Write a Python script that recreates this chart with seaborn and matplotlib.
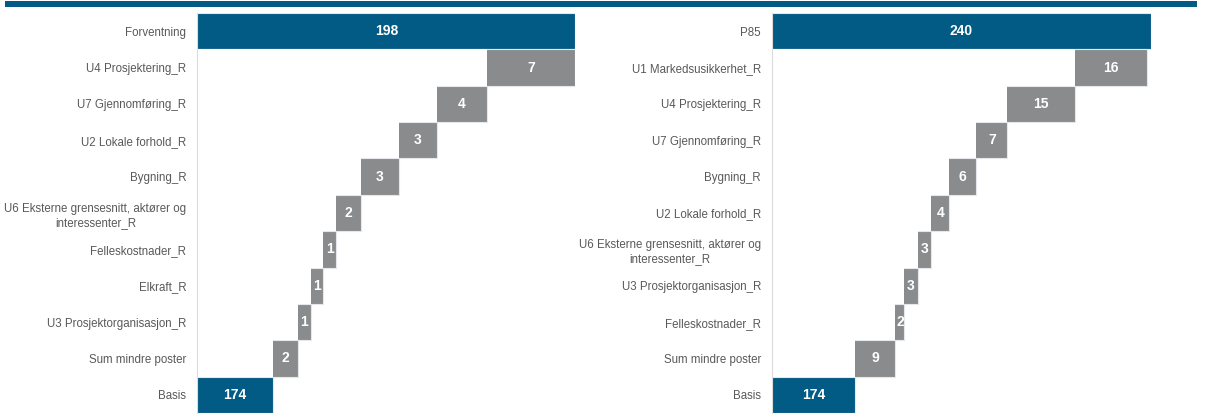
import numpy as np
import pandas as pd
import matplotlib
matplotlib.use("Agg")
import matplotlib.pyplot as plt
from matplotlib.patches import Rectangle
import seaborn as sns

# Left waterfall: from Basis up to Forventning (bottom to top)
left_labels = [
    "Basis",
    "Sum mindre poster",
    "U3 Prosjektorganisasjon_R",
    "Elkraft_R",
    "Felleskostnader_R",
    "U6 Eksterne grensesnitt, aktører og\ninteressenter_R",
    "Bygning_R",
    "U2 Lokale forhold_R",
    "U7 Gjennomføring_R",
    "U4 Prosjektering_R",
    "Forventning",
]
left_values = [174, 2, 1, 1, 1, 2, 3, 3, 4, 7, 198]

# Right waterfall: from Basis up to P85 (bottom to top)
right_labels = [
    "Basis",
    "Sum mindre poster",
    "Felleskostnader_R",
    "U3 Prosjektorganisasjon_R",
    "U6 Eksterne grensesnitt, aktører og\ninteressenter_R",
    "U2 Lokale forhold_R",
    "Bygning_R",
    "U7 Gjennomføring_R",
    "U4 Prosjektering_R",
    "U1 Markedsusikkerhet_R",
    "P85",
]
right_values = [174, 9, 2, 3, 3, 4, 6, 7, 15, 16, 240]

BLUE = "#025b84"
GREY = "#8a8b8d"
TEXT = "#595959"

sns.set_theme(style="white")
plt.rcParams["font.family"] = ["Liberation Sans", "DejaVu Sans"]


def waterfall_frame(labels, values):
    n = len(values)
    starts, ends, kinds = [], [], []
    running = 0
    for i, v in enumerate(values):
        if i == 0 or i == n - 1:
            starts.append(0)
            ends.append(v)
            kinds.append("total")
            running = v
        else:
            starts.append(running)
            running += v
            ends.append(running)
            kinds.append("step")
    df = pd.DataFrame({"label": labels, "value": values, "start": starts,
                       "end": ends, "kind": kinds})
    # top row first so that Basis sits at the bottom
    return df.iloc[::-1].reset_index(drop=True)


def draw(ax, labels, values, xmin, xmax):
    df = waterfall_frame(labels, values)
    order = list(df["label"])
    pal = {lab: (BLUE if k == "total" else GREY) for lab, k in zip(df["label"], df["kind"])}
    sns.barplot(data=df, x="end", y="label", hue="label", order=order,
                palette=pal, saturation=1, dodge=False, legend=False, width=1.0,
                edgecolor="#e4e8ec", linewidth=0.8, ax=ax)
    # mask the part below each floating step
    sns.barplot(data=df, x="start", y="label", order=order, color="white",
                saturation=1, width=1.0, edgecolor="none", linewidth=0, ax=ax)
    for i, row in df.iterrows():
        ax.text(row["start"] + row["value"] / 2 if row["kind"] == "step"
                else xmin + (row["end"] - xmin) / 2,
                i, f"{row['value']:g}", ha="center", va="center",
                color="white", fontsize=10, fontweight="bold")
    ax.set_xlim(xmin, xmax)
    ax.set_ylim(len(df) - 0.5, -0.5)
    ax.set_xlabel("")
    ax.set_ylabel("")
    ax.set_xticks([])
    for s in ["top", "right", "bottom"]:
        ax.spines[s].set_visible(False)
    ax.spines["left"].set_color("#dcdcdc")
    ax.spines["left"].set_linewidth(0.8)
    ax.spines["left"].set_zorder(5)
    ax.tick_params(axis="y", length=0, pad=8, labelsize=8.3, labelcolor=TEXT)
    for t in ax.get_yticklabels():
        t.set_multialignment("center")
        t.set_linespacing(1.3)


W, H = 1212, 416
fig = plt.figure(figsize=(W / 100, H / 100), dpi=100)

axL = fig.add_axes([197.5 / W, 3 / H, (575 - 197.5) / W, 400 / H])
axR = fig.add_axes([772 / W, 3 / H, (1151 - 772) / W, 400 / H])

draw(axL, left_labels, left_values, 168, 198)
draw(axR, right_labels, right_values, 155.5, 240)

# header band
fig.add_artist(Rectangle((5 / W, 1 - 7 / H), (1197 - 5) / W, 6 / H,
                         transform=fig.transFigure, color=BLUE, lw=0))

fig.savefig("out.png", dpi=100)
